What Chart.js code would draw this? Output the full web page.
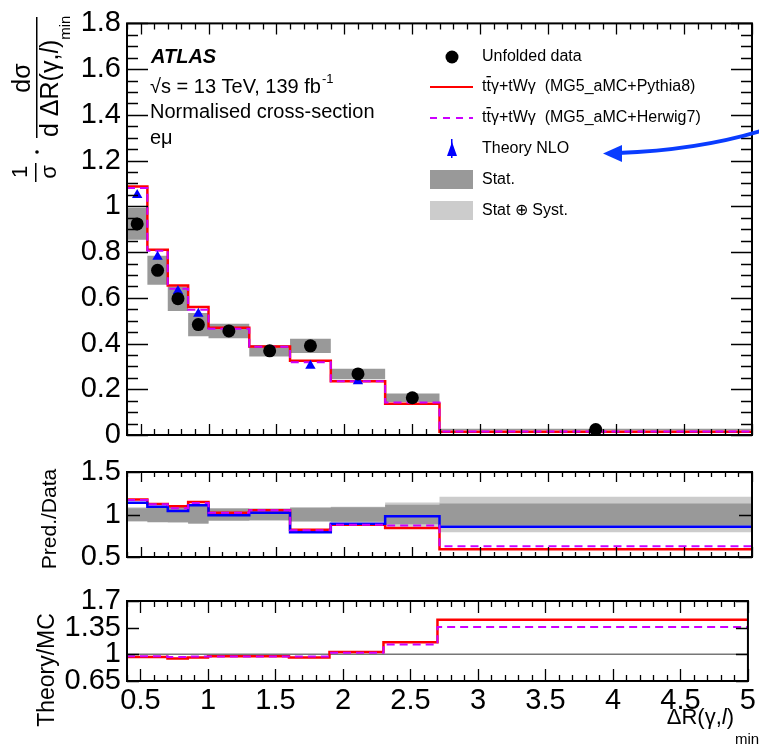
<!DOCTYPE html>
<html>
<head>
<meta charset="utf-8">
<script src="https://cdn.jsdelivr.net/npm/chart.js@4.4.1/dist/chart.umd.min.js"></script>
<style>
  html, body { margin: 0; padding: 0; background: #fff; }
  #wrap { position: relative; width: 759px; height: 749px; background: #fff; overflow: hidden; }
  canvas { position: absolute; left: 0; }
</style>
</head>
<body>
<div id="wrap">
  <canvas id="mainChart" width="759" height="465" style="top:0"></canvas>
  <canvas id="ratioChart" width="759" height="140" style="top:445px"></canvas>
  <canvas id="theoryChart" width="759" height="174" style="top:575px"></canvas>
</div>
<script>
// bin edges and centres of Delta R(gamma, l)_min
const EDGES = [0.4, 0.55, 0.7, 0.85, 1.0, 1.3, 1.6, 1.9, 2.3, 2.7, 5.0];
const CENTERS = [0.475, 0.625, 0.775, 0.925, 1.15, 1.45, 1.75, 2.1, 2.5, 3.85];

// normalised cross-section
const DATA = [0.923, 0.72, 0.596, 0.483, 0.455, 0.368, 0.39, 0.267, 0.163, 0.024];
const PYTHIA = [1.087, 0.81, 0.654, 0.56, 0.469, 0.387, 0.325, 0.235, 0.137, 0.0142];
const HERWIG = [1.08, 0.806, 0.64, 0.548, 0.465, 0.386, 0.318, 0.235, 0.142, 0.015];
const THEORY = [1.05, 0.78, 0.63, 0.53, 0.452, 0.37, 0.303, 0.235, 0.16, 0.0205];

// relative uncertainties (stat only, stat+syst)
const STAT_REL = [0.075, 0.088, 0.09, 0.105, 0.07, 0.068, 0.08, 0.085, 0.115, 0.13];
const TOTAL_REL = [0.085, 0.095, 0.095, 0.11, 0.075, 0.072, 0.085, 0.09, 0.14, 0.21];

// Pred./Data
const RATIO_PYTHIA = [1.176, 1.125, 1.098, 1.148, 1.02, 1.05, 0.82, 0.88, 0.84, 0.59];
const RATIO_HERWIG = [1.17, 1.12, 1.075, 1.135, 1.02, 1.05, 0.815, 0.88, 0.87, 0.627];
const RATIO_THEORY = [1.137, 1.09, 1.04, 1.11, 0.99, 1.02, 0.79, 0.89, 0.98, 0.855];

// Theory/MC
const TMC_PYTHIA = [0.965, 0.965, 0.945, 0.96, 0.975, 0.975, 0.96, 1.03, 1.16, 1.455];
const TMC_HERWIG = [0.975, 0.975, 0.965, 0.97, 0.97, 0.97, 0.97, 1.02, 1.13, 1.36];

// tick labels
const X_TICKS = [0.5, 1, 1.5, 2, 2.5, 3, 3.5, 4, 4.5, 5];
const Y_TICKS_MAIN = [0, 0.2, 0.4, 0.6, 0.8, 1, 1.2, 1.4, 1.6, 1.8];
const Y_TICKS_RATIO = [0.5, 1, 1.5];
const Y_TICKS_TMC = [0.65, 1, 1.35, 1.7];

const FONT = "'Liberation Sans', Arial, Helvetica, sans-serif";
Chart.defaults.font.family = FONT;
Chart.defaults.color = '#000';

const RED = '#ff0000';
const MAGENTA = '#cc00ff';
const BLUE = '#0000ff';
const DARK = '#999999';
const LIGHT = '#cccccc';

// histogram as a stepped line through the bin edges
function steps(vals) {
    return EDGES.map((x, i) => ({ x, y: vals[Math.min(i, vals.length - 1)] }));
}

function stepLine(vals, color, width, dash) {
    return {
        type: 'line', data: steps(vals), borderColor: color, borderWidth: width,
        borderDash: dash || [], stepped: 'before', pointRadius: 0, fill: false,
    };
}

function bandEdge(vals, color, fillNext, order) {
    return {
        type: 'line', data: steps(vals), borderColor: 'transparent', borderWidth: 0,
        backgroundColor: color, stepped: 'before', pointRadius: 0,
        fill: fillNext ? '+1' : false, order,
    };
}

function markers(vals, style, radius, color) {
    return {
        type: 'line', showLine: false, data: CENTERS.map((x, i) => ({ x, y: vals[i] })),
        pointStyle: style, pointRadius: radius, pointBackgroundColor: color,
        pointBorderColor: color, pointBorderWidth: 0, order: 0,
    };
}

// ROOT style frame with inward ticks on all four sides
const rootFrame = {
    id: 'rootFrame',
    afterDatasetsDraw(chart, args, o) {
        const { ctx, chartArea: a, scales: { x, y } } = chart;
        ctx.save();
        ctx.strokeStyle = '#000';
        ctx.lineWidth = 1.3;
        ctx.beginPath();
        for (let k = Math.ceil(x.min / 0.1 - 1e-6); k * 0.1 <= x.max + 1e-9; k++) {
            const v = k * 0.1;
            const major = Math.abs(v * 2 - Math.round(v * 2)) < 1e-6;
            const len = major ? o.xMaj : o.xMin;
            const px = Math.round(x.getPixelForValue(v)) + 0.5;
            ctx.moveTo(px, a.bottom); ctx.lineTo(px, a.bottom - len);
            ctx.moveTo(px, a.top); ctx.lineTo(px, a.top + len);
        }
        const yTicks = [];
        o.yMajor.forEach(v => yTicks.push([v, o.yMaj]));
        if (o.yMinorStep) {
            for (let k = 0; y.min + k * o.yMinorStep <= y.max + 1e-9; k++) {
                const v = y.min + k * o.yMinorStep;
                if (!o.yMajor.some(m => Math.abs(m - v) < 1e-6)) yTicks.push([v, o.yMin]);
            }
        }
        yTicks.forEach(([v, len]) => {
            const py = Math.round(y.getPixelForValue(v)) + 0.5;
            ctx.moveTo(a.left, py); ctx.lineTo(a.left + len, py);
            ctx.moveTo(a.right, py); ctx.lineTo(a.right - len, py);
        });
        ctx.stroke();
        ctx.lineWidth = 2;
        ctx.strokeRect(a.left, a.top, a.right - a.left, a.bottom - a.top);
        ctx.restore();
    }
};

function rotText(ctx, txt, sx, sy, font, align) {
    ctx.save();
    ctx.translate(sx, sy);
    ctx.rotate(-Math.PI / 2);
    ctx.font = font;
    ctx.textAlign = align || 'center';
    ctx.textBaseline = 'middle';
    ctx.fillText(txt, 0, 0);
    const w = ctx.measureText(txt).width;
    ctx.restore();
    return w;
}

function baseOptions(cfg) {
    return {
        responsive: false,
        animation: false,
        devicePixelRatio: 1,
        layout: { autoPadding: false, padding: { left: 0, right: 7, top: cfg.padTop, bottom: cfg.padBottom } },
        plugins: { legend: { display: false }, tooltip: { enabled: false }, rootFrame: cfg.frame },
        scales: {
            x: {
                type: 'linear', min: 0.4, max: 5, display: cfg.showX,
                grid: { display: false, drawTicks: false }, border: { display: false },
                afterBuildTicks: s => { s.ticks = X_TICKS.map(v => ({ value: v })); },
                afterFit: s => { if (cfg.showX) s.height = cfg.xHeight; },
                ticks: { font: { size: 29 }, padding: 3, autoSkip: false, maxRotation: 0, callback: v => String(v) },
            },
            y: {
                type: 'linear', min: cfg.yMin, max: cfg.yMax,
                grid: { display: false, drawTicks: false }, border: { display: false },
                afterBuildTicks: s => { s.ticks = cfg.yTicks.map(v => ({ value: v })); },
                afterFit: s => { s.width = 127; },
                ticks: { font: { size: 29 }, padding: 6, autoSkip: false, callback: v => String(+v.toFixed(2)) },
            },
        },
    };
}

// top panel labels, legend and arrow
const mainText = {
    id: 'mainText',
    afterDraw(chart) {
        const ctx = chart.ctx;
        ctx.save();
        ctx.fillStyle = '#000';
        ctx.textBaseline = 'middle';
        ctx.textAlign = 'left';

        ctx.font = `italic bold 20px ${FONT}`;
        ctx.fillText('ATLAS', 151, 57);
        ctx.font = `20px ${FONT}`;
        ctx.fillText('\u221As = 13 TeV, 139 fb', 150, 87);
        const w = ctx.measureText('\u221As = 13 TeV, 139 fb').width;
        ctx.font = `13px ${FONT}`;
        ctx.fillText('-1', 151 + w, 79);
        ctx.font = `20px ${FONT}`;
        ctx.fillText('Normalised cross-section', 150, 112);
        ctx.fillText('e\u03BC', 150, 138);

        // legend
        const lx = 482;
        ctx.font = `16px ${FONT}`;
        ctx.beginPath(); ctx.arc(452, 57, 6.5, 0, Math.PI * 2); ctx.fill();
        ctx.fillText('Unfolded data', lx, 57);

        const ttg = (y, label, color, dash) => {
            ctx.save();
            ctx.strokeStyle = color; ctx.lineWidth = 2; ctx.setLineDash(dash);
            ctx.beginPath(); ctx.moveTo(430, y); ctx.lineTo(473, y); ctx.stroke();
            ctx.restore();
            const wt = ctx.measureText('t').width;
            ctx.fillText('tt', lx, y);
            ctx.fillRect(lx + wt, y - 11, wt, 1.3);
            ctx.fillText('\u03B3+tW\u03B3  ' + label, lx + 2 * wt, y);
        };
        ttg(87, '(MG5_aMC+Pythia8)', RED, []);
        ttg(118, '(MG5_aMC+Herwig7)', MAGENTA, [7, 6]);

        ctx.fillStyle = BLUE;
        ctx.fillRect(451, 139, 1.5, 19);
        ctx.beginPath(); ctx.moveTo(452, 142); ctx.lineTo(457, 156); ctx.lineTo(447, 156); ctx.closePath(); ctx.fill();
        ctx.fillStyle = '#000';
        ctx.fillText('Theory NLO', lx, 149);

        ctx.fillStyle = DARK; ctx.fillRect(430, 170, 43, 19);
        ctx.fillStyle = LIGHT; ctx.fillRect(430, 201, 43, 19);
        ctx.fillStyle = '#000';
        ctx.fillText('Stat.', lx, 180);
        ctx.fillText('Stat \u2295 Syst.', lx, 211);

        // y axis title: 1/sigma . dsigma / d DeltaR(gamma,l)_min
        rotText(ctx, '1', 21, 172, `22px ${FONT}`);
        rotText(ctx, '\u03C3', 50, 172, `22px ${FONT}`);
        ctx.fillRect(35, 163, 1.5, 19);
        ctx.beginPath(); ctx.arc(37, 152, 1.8, 0, Math.PI * 2); ctx.fill();
        rotText(ctx, 'd\u03C3', 23, 78, `25px ${FONT}`);
        ctx.fillRect(36, 17, 1.5, 121);
        let sy = 137;
        sy -= rotText(ctx, 'd \u0394R(\u03B3,', 51, sy, `25px ${FONT}`, 'left');
        sy -= rotText(ctx, 'l', 51, sy, `italic 25px ${FONT}`, 'left');
        sy -= rotText(ctx, ')', 51, sy, `25px ${FONT}`, 'left');
        rotText(ctx, 'min', 66, sy, `15px ${FONT}`, 'left');

        // blue arrow pointing at Theory NLO
        ctx.strokeStyle = '#0a3cff';
        ctx.fillStyle = '#0a3cff';
        ctx.lineWidth = 4;
        ctx.beginPath(); ctx.moveTo(764, 130); ctx.quadraticCurveTo(700, 150, 618, 153); ctx.stroke();
        ctx.beginPath(); ctx.moveTo(603, 153.5); ctx.lineTo(622, 145); ctx.lineTo(622, 162); ctx.closePath(); ctx.fill();
        ctx.restore();
    }
};

const ratioText = {
    id: 'ratioText',
    afterDraw(chart) {
        chart.ctx.fillStyle = '#000';
        rotText(chart.ctx, 'Pred./Data', 50, 74, `21px ${FONT}`);
    }
};

const theoryText = {
    id: 'theoryText',
    afterDraw(chart) {
        const ctx = chart.ctx;
        ctx.save();
        ctx.fillStyle = '#000';
        rotText(ctx, 'Theory/MC', 48, 95, `23px ${FONT}`);
        ctx.textBaseline = 'middle';
        const parts = [['\u0394R(\u03B3,', ''], ['l', 'italic '], [')', '']];
        let total = 0;
        parts.forEach(([t, st]) => { ctx.font = `${st}22px ${FONT}`; total += ctx.measureText(t).width; });
        let x = 734 - total;
        parts.forEach(([t, st]) => { ctx.font = `${st}22px ${FONT}`; ctx.fillText(t, x, 143); x += ctx.measureText(t).width; });
        ctx.font = `15px ${FONT}`;
        ctx.fillText('min', 735, 165);
        ctx.restore();
    }
};

// top panel
new Chart(document.getElementById('mainChart'), {
    type: 'line',
    data: {
        datasets: [
            markers(DATA, 'circle', 6.5, '#000'),
            Object.assign(markers(THEORY, 'triangle', 6, BLUE), { order: 1 }),
            Object.assign(stepLine(HERWIG, MAGENTA, 2, [8, 5]), { order: 2 }),
            Object.assign(stepLine(PYTHIA, RED, 2.5), { order: 3 }),
            bandEdge(DATA.map((v, i) => v * (1 + STAT_REL[i])), DARK, true, 4),
            bandEdge(DATA.map((v, i) => v * (1 - STAT_REL[i])), DARK, false, 5),
        ],
    },
    options: baseOptions({
        padTop: 19, padBottom: 30, yMin: 0, yMax: 1.8, yTicks: Y_TICKS_MAIN, showX: false,
        frame: { xMaj: 11, xMin: 6, yMaj: 21, yMin: 11, yMajor: Y_TICKS_MAIN, yMinorStep: 0.05 },
    }),
    plugins: [rootFrame, mainText],
});

// Pred./Data panel
new Chart(document.getElementById('ratioChart'), {
    type: 'line',
    data: {
        datasets: [
            Object.assign(stepLine(RATIO_HERWIG, MAGENTA, 2, [8, 5]), { order: 0 }),
            Object.assign(stepLine(RATIO_THEORY, BLUE, 2.5), { order: 1 }),
            Object.assign(stepLine(RATIO_PYTHIA, RED, 2.5), { order: 2 }),
            bandEdge(STAT_REL.map(r => 1 + r), DARK, true, 4),
            bandEdge(STAT_REL.map(r => 1 - r), DARK, false, 5),
            bandEdge(TOTAL_REL.map(r => 1 + r), LIGHT, true, 6),
            bandEdge(TOTAL_REL.map(r => 1 - r), LIGHT, false, 7),
        ],
    },
    options: baseOptions({
        padTop: 27, padBottom: 28, yMin: 0.5, yMax: 1.5, yTicks: Y_TICKS_RATIO, showX: false,
        frame: { xMaj: 10, xMin: 5, yMaj: 13, yMin: 7, yMajor: Y_TICKS_RATIO },
    }),
    plugins: [rootFrame, ratioText],
});

// Theory/MC panel
new Chart(document.getElementById('theoryChart'), {
    type: 'line',
    data: {
        datasets: [
            Object.assign(stepLine(TMC_HERWIG, MAGENTA, 2, [8, 5]), { order: 0 }),
            Object.assign(stepLine(TMC_PYTHIA, RED, 2.5), { order: 1 }),
            {
                type: 'line', data: [{ x: 0.4, y: 1 }, { x: 5, y: 1 }], borderColor: '#777',
                borderWidth: 1.5, pointRadius: 0, fill: false, order: 2,
            },
        ],
    },
    options: baseOptions({
        padTop: 26, padBottom: 0, yMin: 0.65, yMax: 1.7, yTicks: Y_TICKS_TMC, showX: true, xHeight: 68,
        frame: { xMaj: 12, xMin: 6, yMaj: 12, yMin: 6, yMajor: Y_TICKS_TMC },
    }),
    plugins: [rootFrame, theoryText],
});
</script>
</body>
</html>
